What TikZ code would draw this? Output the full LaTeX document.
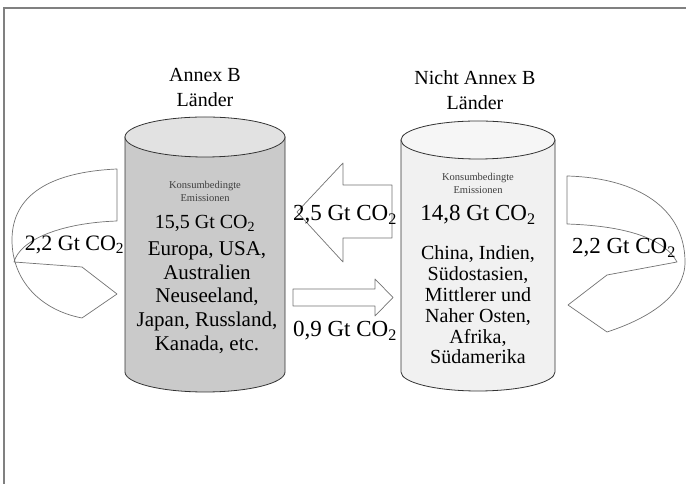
\documentclass[tikz,border=0pt]{standalone}
\usepackage{fontspec}
\setmainfont{Liberation Serif}

\definecolor{annexfill}{HTML}{CACACA}
\definecolor{annextop}{HTML}{E2E2E2}
\definecolor{nichtfill}{HTML}{F1F1F1}
\definecolor{nichttop}{HTML}{F6F6F6}

\tikzset{
	drum/.style={draw=black!80, line width=0.8pt},
	blockarrow/.style={draw=black!55, fill=white, line width=0.7pt, line join=round},
	titel/.style={align=center, inner sep=0pt, font=\fontsize{20}{25}\selectfont},
	klein/.style={align=center, inner sep=0pt, text=black!75, font=\fontsize{10.5}{13}\selectfont},
	menge/.style={inner sep=0pt, font=\fontsize{#1}{#1}\selectfont},
	liste/.style={align=center, inner sep=0pt, font=#1}
}

\begin{document}
	\begin{tikzpicture}[x=1pt, y=1pt]
		
		\useasboundingbox (0,0) rectangle (686,484);
		\draw[black!50, line width=1.2pt] (4,0) -- (4,476) -- (686,476);
		
		% Annex B
		\path[drum, fill=annexfill] (125,347) -- (125,112) arc (180:360:80 and 20) -- (285,347) -- cycle;
		\path[drum, fill=annextop] (205,347) ellipse (80 and 20);
		
		% Nicht Annex B
		\path[drum, fill=nichtfill] (401,344) -- (401,112) arc (180:360:77 and 19) -- (555,344) -- cycle;
		\path[drum, fill=nichttop] (478,344) ellipse (77 and 19);
		
		% Pfeile
		\path[blockarrow] (297,272) -- (343,321) -- (343,299) -- (392,299) -- (392,246) -- (343,246) -- (343,222) -- cycle;
		\path[blockarrow] (393,186.5) -- (375,205) -- (375,195) -- (293,195) -- (293,178) -- (375,178) -- (375,168) -- cycle;
		
		\path[blockarrow] (117,315) -- (117,263) .. controls (60,261) and (20,244) .. (14,222)
			-- (82,217) -- (117,190) -- (82,166)
			.. controls (40,174) and (12,204) .. (12,244)
			.. controls (12,289) and (50,312) .. (117,315) -- cycle;
		
		\path[blockarrow] (567,308) -- (567,260) .. controls (630,258) and (665,244) .. (677,222)
			-- (607,209) -- (568,179) -- (607,152)
			.. controls (650,166) and (685,189) .. (685,222)
			.. controls (685,274) and (640,306) .. (567,308) -- cycle;
		
		% Texte
		\node[titel] (annex) at (205,396) {Annex B\\Länder};
		\node[titel] (nicht) at (475,394) {Nicht Annex B\\Länder};
		
		\node[klein] (konsumA) at (205,292.5) {Konsumbedingte\\Emissionen};
		\node[menge=20] (summeA) at (205,261) {15,5 Gt CO\textsubscript{2}};
		\node[liste=\fontsize{21}{23.75}\selectfont] (laenderA) at (207,186.5) {Europa, USA,\\Australien\\Neuseeland,\\Japan, Russland,\\Kanada, etc.};
		
		\node[klein] (konsumN) at (478,300.5) {Konsumbedingte\\Emissionen};
		\node[menge=23] (summeN) at (478,269) {14,8 Gt CO\textsubscript{2}};
		\node[liste=\fontsize{20}{20.8}\selectfont] (laenderN) at (478,179) {China, Indien,\\Südostasien,\\Mittlerer und\\Naher Osten,\\Afrika,\\Südamerika};
		
		\node[menge=23] (export) at (345,269) {2,5 Gt CO\textsubscript{2}};
		\node[menge=23] (import) at (345,153) {0,9 Gt CO\textsubscript{2}};
		\node[menge=22] (kreisA) at (74.5,239) {2,2 Gt CO\textsubscript{2}};
		\node[menge=23] (kreisN) at (624,236) {2,2 Gt CO\textsubscript{2}};
		
	\end{tikzpicture}
\end{document}
